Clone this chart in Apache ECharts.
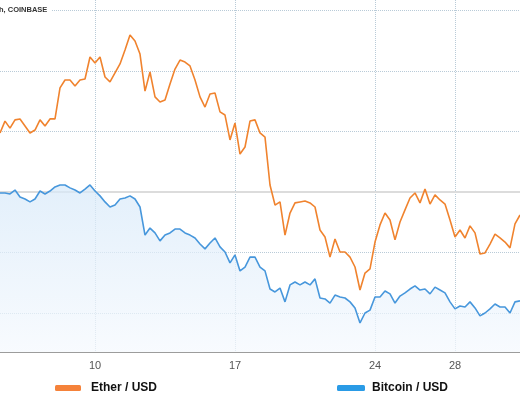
<!DOCTYPE html>
<html>
<head>
<meta charset="utf-8">
<script src="https://cdn.jsdelivr.net/npm/echarts@6/dist/echarts.min.js"></script>
<style>
html,body{margin:0;padding:0;background:#fff;}
#chart{width:520px;height:400px;}
</style>
</head>
<body>
<div id="chart"></div>
<script>
// Time grid: 6-hourly points, starting day 5 at 06:00
const startDay = 5;
const startHour = 6;
const stepHours = 6;
const pointCount = 105;
const tickDays = [10, 17, 24, 28];

const categories = [];
for (let i = 0; i < pointCount; i++) {
  const h = startHour + i * stepHours;
  const d = startDay + Math.floor(h / 24);
  const hh = h % 24;
  categories.push(d + ' ' + (hh < 10 ? '0' : '') + hh + ':00');
}

// Ether / USD
const etherUsd = [
  549.4, 554.3, 551.4, 554.8, 555.2, 552.3, 549.4, 550.6, 554.8, 552.3,
  555.2, 555.2, 568.0, 571.3, 571.3, 568.8, 571.3, 571.7, 580.8, 578.3,
  580.8, 572.5, 570.5, 574.2, 577.9, 583.7, 589.9, 587.4, 582.0, 566.7,
  574.6, 564.3, 562.2, 563.0, 569.6, 575.8, 579.5, 578.7, 577.1, 571.3,
  564.3, 560.1, 565.5, 565.9, 558.1, 556.8, 546.5, 553.5, 540.7, 543.6,
  554.3, 554.8, 549.4, 547.7, 527.9, 519.6, 520.9, 507.2, 516.3, 520.5,
  520.9, 521.3, 520.5, 518.8, 509.3, 506.4, 498.1, 505.6, 500.2, 500.2,
  498.1, 494.0, 484.5, 491.5, 493.2, 504.3, 511.4, 516.3, 513.4, 505.2,
  512.6, 517.6, 522.5, 524.6, 520.5, 526.2, 520.0, 523.8, 521.7, 520.0,
  513.4, 506.4, 509.3, 506.0, 511.0, 508.1, 499.4, 499.8, 503.5, 507.6,
  506.0, 504.3, 501.9, 511.8, 515.5
];

// Bitcoin / USD
const bitcoinUsd = [
  7496, 7496, 7492, 7508, 7479, 7471, 7459, 7471, 7504, 7492,
  7504, 7521, 7529, 7529, 7517, 7508, 7496, 7512, 7529, 7504,
  7484, 7459, 7438, 7446, 7471, 7475, 7484, 7471, 7438, 7322,
  7351, 7331, 7298, 7322, 7331, 7347, 7347, 7331, 7322, 7310,
  7285, 7265, 7289, 7310, 7273, 7252, 7207, 7240, 7174, 7190,
  7231, 7231, 7190, 7174, 7099, 7087, 7103, 7046, 7116, 7128,
  7116, 7128, 7116, 7141, 7062, 7058, 7041, 7074, 7066, 7062,
  7046, 7021, 6959, 7000, 7012, 7066, 7066, 7091, 7079, 7041,
  7070, 7083, 7099, 7112, 7095, 7099, 7079, 7107, 7095, 7083,
  7046, 7017, 7029, 7025, 7046, 7021, 6988, 7000, 7017, 7037,
  7025, 7025, 7000, 7046, 7050
];

// Ether axis reference levels (grid lines)
const etherGridLevels = [475, 500, 550, 575, 600];
const etherMainLevel = 525;

const chart = echarts.init(document.getElementById('chart'), null, {renderer: 'canvas'});

const dottedGrid = etherGridLevels.map(v => ({yAxis: v}));
dottedGrid.push({yAxis: etherMainLevel, lineStyle: {type: 'solid', color: '#dcdcdc', width: 2}});

function isTickIndex(index) {
  const c = categories[index];
  const parts = c.split(' ');
  return parts[1] === '00:00' && tickDays.indexOf(parseInt(parts[0], 10)) >= 0;
}

const legendText = {fontSize: 12, fontWeight: 'bold', color: '#111', fontFamily: 'Liberation Sans'};

chart.setOption({
  animation: false,
  backgroundColor: '#ffffff',
  title: {
    text: 'h, COINBASE',
    left: -1,
    top: 5,
    padding: [1, 4, 1, 0],
    backgroundColor: '#ffffff',
    textStyle: {fontSize: 7.5, fontWeight: 'bold', color: '#333', fontFamily: 'Liberation Sans'}
  },
  legend: [
    {
      data: ['Ether / USD'],
      left: 55, top: 382, padding: 0,
      itemWidth: 26, itemHeight: 6,
      icon: 'roundRect',
      textStyle: Object.assign({padding: [0, 0, 0, 5]}, legendText)
    },
    {
      data: ['Bitcoin / USD'],
      left: 337, top: 382, padding: 0,
      itemWidth: 28, itemHeight: 6,
      icon: 'roundRect',
      textStyle: Object.assign({padding: [0, 0, 0, 2]}, legendText)
    }
  ],
  grid: {left: 0, right: 0, top: 0, bottom: 48, containLabel: false},
  xAxis: {
    type: 'category',
    data: categories,
    boundaryGap: false,
    axisLine: {lineStyle: {color: '#9c9c9c', width: 1}},
    axisTick: {show: false},
    axisLabel: {
      interval: (index) => isTickIndex(index),
      formatter: (v) => v.split(' ')[0],
      color: '#555',
      fontSize: 11,
      fontFamily: 'Liberation Sans',
      margin: 8
    },
    splitLine: {
      show: true,
      interval: (index) => isTickIndex(index),
      lineStyle: {type: 'dotted', color: '#b9cbd8', width: 1}
    }
  },
  yAxis: [
    {type: 'value', min: 458.88, max: 604.34, show: false, splitLine: {show: false}},
    {type: 'value', min: 6838.84, max: 8293.39, show: false, splitLine: {show: false}}
  ],
  series: [
    {
      name: 'Bitcoin / USD',
      type: 'line',
      yAxisIndex: 1,
      data: bitcoinUsd,
      showSymbol: false,
      symbol: 'none',
      color: '#2a9be6',
      lineStyle: {color: '#4797dc', width: 1.6},
      areaStyle: {
        color: new echarts.graphic.LinearGradient(0, 0, 0, 1, [
          {offset: 0, color: '#d7e9f9'},
          {offset: 1, color: '#f5f9fe'}
        ])
      },
      z: 2
    },
    {
      name: 'Ether / USD',
      type: 'line',
      yAxisIndex: 0,
      data: etherUsd,
      showSymbol: false,
      symbol: 'none',
      color: '#f5823a',
      lineStyle: {color: '#f0832e', width: 1.6},
      markLine: {
        silent: true,
        symbol: 'none',
        label: {show: false},
        lineStyle: {type: 'dotted', color: '#b9cbd8', width: 1},
        data: dottedGrid,
        z: 1
      },
      z: 3
    }
  ]
});
</script>
</body>
</html>
